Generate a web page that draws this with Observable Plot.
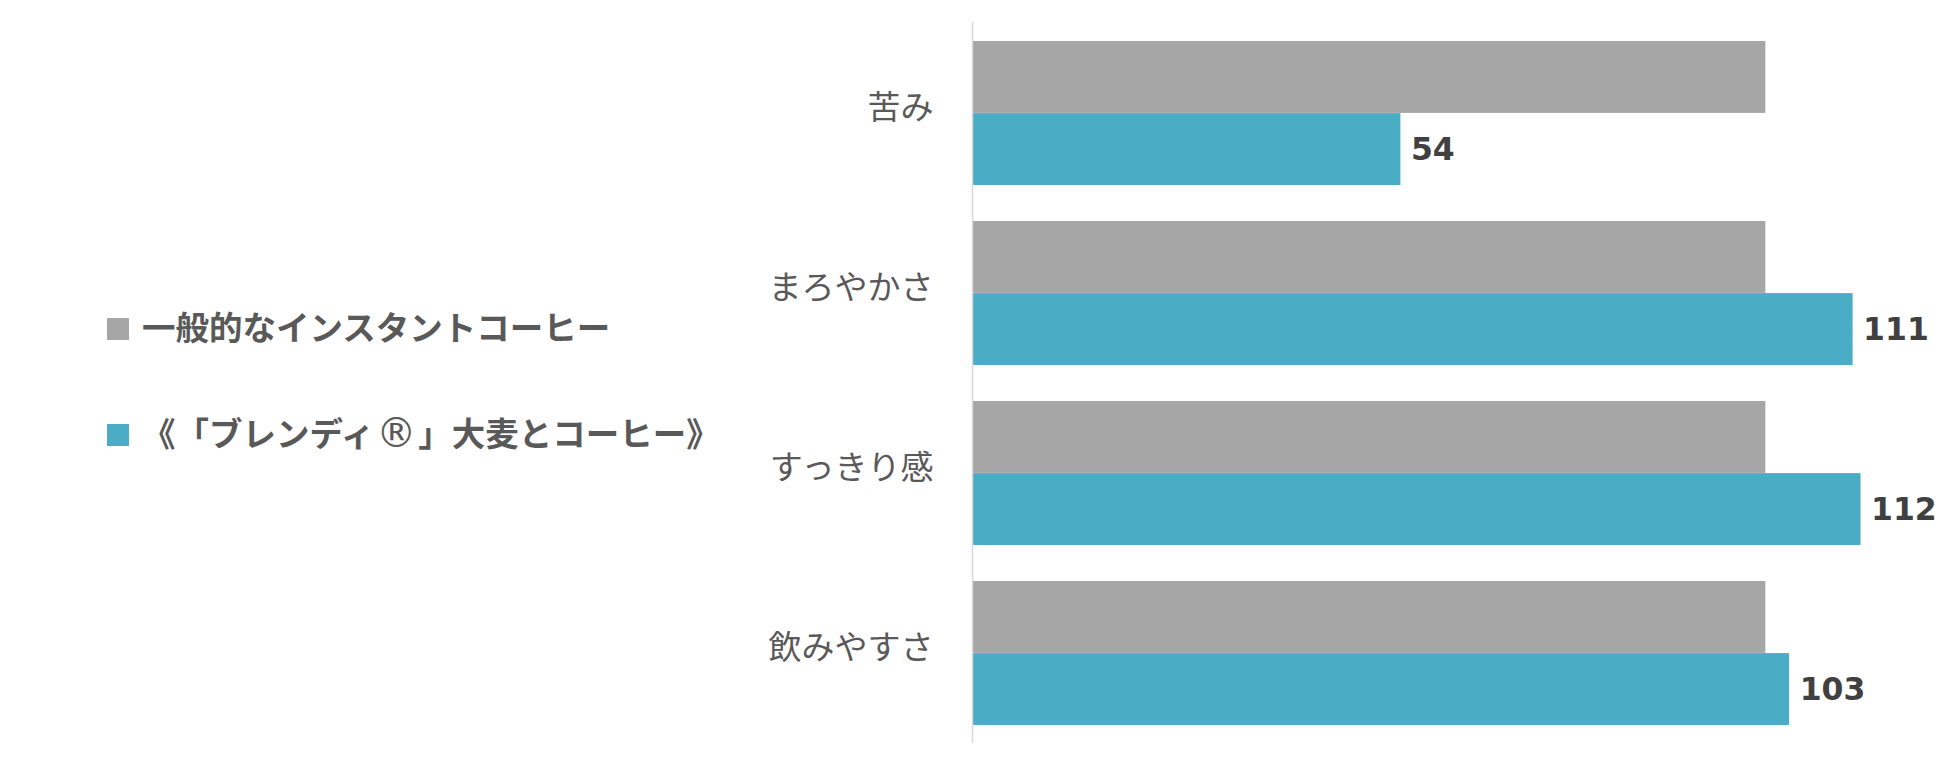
<!DOCTYPE html>
<html>
<head>
<meta charset="utf-8">
<script src="https://cdn.jsdelivr.net/npm/d3@7"></script>
<script src="https://cdn.jsdelivr.net/npm/@observablehq/plot@0.6"></script>
<style>
  html, body { margin: 0; padding: 0; background: #fff; }
  #wrap { position: relative; width: 1950px; height: 766px; }
  .lg { position: absolute; left: 107px; display: flex; align-items: center; height: 44px;
        font-family: "Noto Sans CJK JP", sans-serif; font-weight: 700; font-size: 33.5px; color: #595959; white-space: nowrap;
        text-spacing-trim: space-all; }
  .lg .sw { width: 22px; height: 22px; margin-right: 13px; flex: none; }
  .lg .tx { position: relative; top: -4px; }
  .lg .reg { font-family: "DejaVu Sans", sans-serif; font-weight: 400; font-size: 40px; line-height: 1; margin: 0 2px 0 2px; position: relative; top: 1px; }
  .lg .sp { margin-left: 10px; }
</style>
</head>
<body>
<div id="wrap"></div>
<script>
const categories = ["苦み", "まろやかさ", "すっきり感", "飲みやすさ"];
const seriesNames = ["一般的なインスタントコーヒー", "《「ブレンディ®」大麦とコーヒー》"];
const generalValues = [100, 100, 100, 100];
const blendyValues = [54, 111, 112, 103];
const colors = ["#A6A6A6", "#4BACC6"];

const W = 1950, H = 766, mTop = 22, mBottom = 23, mLeft = 972, mRight = 26;
const padInner = 0.2, padOuter = 0.1;
const step = (H - mTop - mBottom) / (categories.length - padInner + 2 * padOuter);
const bw = step * (1 - padInner);

const general = categories.map((c, i) => ({cat: c, value: generalValues[i]}));
const blendy = categories.map((c, i) => ({cat: c, value: blendyValues[i]}));

const chart = Plot.plot({
  width: W, height: H,
  marginTop: mTop, marginBottom: mBottom, marginLeft: mLeft, marginRight: mRight,
  style: {fontFamily: "'Noto Sans CJK JP', sans-serif", background: "#fff"},
  x: {domain: [0, 120], axis: null},
  y: {domain: categories, paddingInner: padInner, paddingOuter: padOuter, label: null},
  marks: [
    Plot.barX(general, {x: "value", y: "cat", fill: colors[0], insetBottom: bw / 2}),
    Plot.barX(blendy, {x: "value", y: "cat", fill: colors[1], insetTop: bw / 2}),
    Plot.ruleX([0], {stroke: "#D9D9D9", strokeWidth: 1.5}),
    Plot.axisY({tickSize: 0, tickPadding: 39, fontSize: 33, fill: "#595959", dy: -5, label: null}),
    Plot.text(blendy, {x: "value", y: "cat", text: d => String(d.value), textAnchor: "start", dx: 10, dy: bw / 4,
      fontFamily: "'DejaVu Sans', sans-serif", fontWeight: "bold", fontSize: 31.5, fill: "#404040"})
  ]
});

const wrap = document.getElementById("wrap");
wrap.appendChild(chart);

const rowsTop = [307, 413];
seriesNames.forEach((name, i) => {
  const row = document.createElement("div");
  row.className = "lg";
  row.style.top = rowsTop[i] + "px";
  const sw = document.createElement("span");
  sw.className = "sw";
  sw.style.background = colors[i];
  const tx = document.createElement("span");
  tx.className = "tx";
  name.split(/(®)/).forEach(part => {
    if (part === "®") {
      const r = document.createElement("span");
      r.className = "reg";
      r.textContent = part;
      tx.appendChild(r);
    } else if (part) {
      tx.appendChild(document.createTextNode(part));
    }
  });
  row.appendChild(sw);
  row.appendChild(tx);
  wrap.appendChild(row);
});
</script>
</body>
</html>
